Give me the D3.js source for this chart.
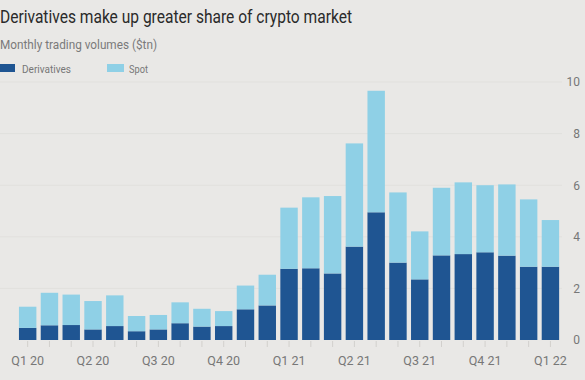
<!DOCTYPE html>
<html><head><meta charset="utf-8">
<script src="https://cdn.jsdelivr.net/npm/d3@7"></script>
<style>
html,body{margin:0;padding:0;background:#e9e8e6;}
svg{display:block;font-family:Roboto,"Open Sans",sans-serif;}
</style></head>
<body><svg id="c" width="585" height="380"></svg>
<script>
const months = ["2020-01","2020-02","2020-03","2020-04","2020-05","2020-06","2020-07","2020-08","2020-09","2020-10","2020-11","2020-12","2021-01","2021-02","2021-03","2021-04","2021-05","2021-06","2021-07","2021-08","2021-09","2021-10","2021-11","2021-12","2022-01"];
const derivatives = [0.47,0.57,0.58,0.41,0.54,0.34,0.41,0.65,0.52,0.54,1.19,1.34,2.76,2.78,2.58,3.62,4.95,3.00,2.35,3.28,3.33,3.40,3.27,2.84,2.84];
const spot = [0.82,1.26,1.18,1.10,1.19,0.59,0.56,0.81,0.69,0.58,0.92,1.19,2.37,2.75,3.00,4.00,4.71,2.72,1.86,2.62,2.78,2.60,2.76,2.61,1.81];
const quarterLabels = {"2020-01":"Q1 20","2020-04":"Q2 20","2020-07":"Q3 20","2020-10":"Q4 20","2021-01":"Q1 21","2021-04":"Q2 21","2021-07":"Q3 21","2021-10":"Q4 21","2022-01":"Q1 22"};
const yTicks = [0,2,4,6,8,10];
const seriesNames = ["Derivatives","Spot"];
const colors = ["#1f5592","#8fd0e6"];

const svg = d3.select("#c");
const x = d3.scaleBand().domain(months).range([14.6,563.5]).padding(0.2);
const y = d3.scaleLinear().domain([0,10]).range([340,82]);

// gridlines
svg.append("g").selectAll("line").data(yTicks.filter(d=>d>0)).join("line")
  .attr("x1",0).attr("x2",562).attr("y1",d=>y(d)).attr("y2",d=>y(d))
  .attr("stroke","#e1e0dd").attr("stroke-width",1);

const table = months.map((m,i)=>({month:m, Derivatives:derivatives[i], Spot:spot[i]}));
const stack = d3.stack().keys(seriesNames)(table);
svg.append("g").selectAll("g").data(stack).join("g")
  .attr("fill",(d,i)=>colors[i])
  .selectAll("rect").data(d=>d).join("rect")
  .attr("x",d=>x(d.data.month)).attr("width",x.bandwidth())
  .attr("y",d=>y(d[1])).attr("height",d=>y(d[0])-y(d[1]));

// x axis
const xAxis = d3.axisBottom(x).tickSize(6).tickPadding(9).tickFormat(d=>quarterLabels[d]||"");
const gx = svg.append("g").attr("transform","translate(0,341)").call(xAxis);
gx.select(".domain").remove();
gx.selectAll(".tick line").attr("stroke","#d2d0cd");
gx.selectAll(".tick text").attr("fill","#777").style("font-size","12.5px").style("font-family","Roboto");

// y axis
const yAxis = d3.axisRight(y).tickValues(yTicks).tickSize(0).tickPadding(0);
const gy = svg.append("g").attr("transform","translate(580,0)").call(yAxis);
gy.select(".domain").remove();
gy.selectAll(".tick text").attr("text-anchor","end").attr("fill","#777").style("font-size","12px").style("font-family","Roboto");

// title
svg.append("text").attr("x",0).attr("y",23).text("Derivatives make up greater share of crypto market")
  .attr("fill","#2a2a2a").style("font-size","18px")
  .attr("textLength",352).attr("lengthAdjust","spacingAndGlyphs");
svg.append("text").attr("x",0).attr("y",49).text("Monthly trading volumes ($tn)")
  .attr("fill","#7a7a7a").style("font-size","12.5px")
  .attr("textLength",157).attr("lengthAdjust","spacingAndGlyphs");

// legend
const legX = [0,107];
const legW = [49,19];
const leg = svg.append("g").selectAll("g").data(seriesNames).join("g")
  .attr("transform",(d,i)=>`translate(${legX[i]},64)`);
leg.append("rect").attr("width",(d,i)=>i===0?15:17).attr("height",8).attr("fill",(d,i)=>colors[i]);
leg.append("text").attr("x",22).attr("y",8.5).text(d=>d)
  .attr("fill","#777").style("font-size","11px")
  .attr("textLength",(d,i)=>legW[i]).attr("lengthAdjust","spacingAndGlyphs");
</script></body></html>
